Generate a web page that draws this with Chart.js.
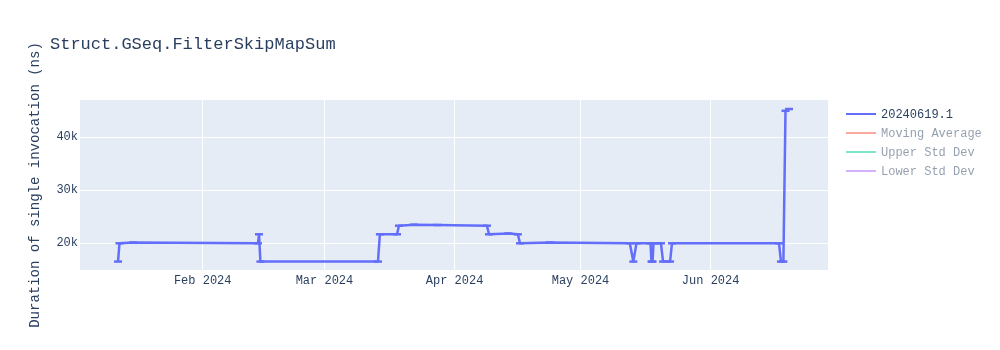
<!DOCTYPE html>
<html>
<head>
<meta charset="utf-8">
<title>Struct.GSeq.FilterSkipMapSum</title>
<script src="https://cdn.jsdelivr.net/npm/chart.js@4.4.1/dist/chart.umd.min.js"></script>
<style>
  html, body { margin: 0; padding: 0; background: #fff; }
  #wrap { width: 1000px; height: 350px; }
</style>
</head>
<body>
<div id="wrap"><canvas id="chart" width="1000" height="350"></canvas></div>
<script>
const FONT = '"Courier New", "Liberation Mono", monospace';
const INK = '#2a3f5f';

const chartTitle = 'Struct.GSeq.FilterSkipMapSum';
const yAxisTitle = 'Duration of single invocation (ns)';

// benchmark runs (UTC) and the measured duration of each
const runDates = [
    '2024-01-11T20:00Z', '2024-01-12T04:00Z', '2024-01-15T10:00Z',
    '2024-02-14T04:00Z', '2024-02-14T10:00Z', '2024-02-14T18:00Z',
    '2024-03-13T18:00Z', '2024-03-14T05:00Z', '2024-03-18T07:00Z',
    '2024-03-18T18:00Z', '2024-03-22T08:00Z', '2024-03-27T22:00Z',
    '2024-04-08T17:00Z', '2024-04-09T05:00Z', '2024-04-13T20:00Z',
    '2024-04-16T02:00Z', '2024-04-16T14:00Z', '2024-04-23T17:00Z',
    '2024-05-12T18:00Z', '2024-05-13T14:00Z', '2024-05-14T08:00Z',
    '2024-05-17T16:00Z', '2024-05-17T22:00Z', '2024-05-18T04:00Z',
    '2024-05-18T09:00Z', '2024-05-20T04:00Z', '2024-05-20T16:00Z',
    '2024-05-22T08:00Z', '2024-05-22T19:00Z', '2024-06-17T07:00Z',
    '2024-06-17T18:00Z', '2024-06-18T08:00Z', '2024-06-18T20:00Z',
    '2024-06-19T16:00Z',
];
const durations = [
    16550, 20000, 20150,
    20000, 21700, 16550,
    16550, 21700, 21700,
    23320, 23500, 23450,
    23320, 21700, 21850,
    21700, 20000, 20150,
    20000, 16550, 20000,
    20000, 16550, 16550,
    20000, 20000, 16550,
    16550, 20000, 20000,
    16550, 16550, 45000,
    45340,
];

const seriesNames = ['20240619.1', 'Moving Average', 'Upper Std Dev', 'Lower Std Dev'];
const seriesColors = ['#636efa', '#ef553b', '#00cc96', '#ab63fa'];

const monthStarts = ['2024-02-01', '2024-03-01', '2024-04-01', '2024-05-01', '2024-06-01'];
const monthLabels = ['Feb 2024', 'Mar 2024', 'Apr 2024', 'May 2024', 'Jun 2024'];
const yTicks = [20000, 30000, 40000];

const xRange = ['2024-01-02T18:30Z', '2024-06-28T23:00Z'];
const yRange = [14960, 47040];

const plotlyFrame = {
    id: 'plotlyFrame',
    beforeDraw(chart) {
        const { ctx, chartArea: a } = chart;
        ctx.save();
        ctx.fillStyle = '#e5ecf6';
        ctx.fillRect(a.left, a.top, a.width, a.height);
        ctx.restore();
    },
    afterDraw(chart) {
        const { ctx, chartArea: a } = chart;
        ctx.save();
        ctx.fillStyle = INK;
        ctx.font = '17px ' + FONT;
        ctx.textBaseline = 'alphabetic';
        ctx.fillText(chartTitle, 50, 49);

        // plotly-like legend, faded entries are legend-only traces
        ctx.font = '12px ' + FONT;
        ctx.textBaseline = 'middle';
        ctx.lineWidth = 2;
        const x0 = a.right + 18;
        chart.data.datasets.forEach((ds, i) => {
            const y = a.top + 14 + i * 19;
            ctx.globalAlpha = chart.isDatasetVisible(i) ? 1 : 0.5;
            ctx.strokeStyle = ds.borderColor;
            ctx.beginPath();
            ctx.moveTo(x0, y);
            ctx.lineTo(x0 + 30, y);
            ctx.stroke();
            ctx.fillStyle = INK;
            ctx.fillText(ds.label, x0 + 35, y + 1);
        });
        ctx.restore();
    },
};

const mainData = runDates.map((d, i) => ({ x: Date.parse(d), y: durations[i] }));

new Chart(document.getElementById('chart'), {
    type: 'line',
    data: {
        datasets: seriesNames.map((name, i) => ({
            label: name,
            data: i === 0 ? mainData : [],
            hidden: i !== 0,
            borderColor: seriesColors[i],
            backgroundColor: seriesColors[i],
            borderWidth: 2.5,
            borderJoinStyle: 'round',
            pointStyle: 'line',
            pointRadius: 4,
            pointBorderWidth: 2.5,
            pointBorderColor: seriesColors[i],
            tension: 0,
            fill: false,
        })),
    },
    options: {
        responsive: false,
        animation: false,
        layout: { padding: { top: 100, right: 172, bottom: 0, left: 0 } },
        plugins: {
            legend: { display: false },
            tooltip: { enabled: false },
        },
        scales: {
            x: {
                type: 'linear',
                min: Date.parse(xRange[0]),
                max: Date.parse(xRange[1]),
                border: { display: false },
                grid: { color: '#ffffff', lineWidth: 1, drawTicks: false },
                afterFit: (scale) => { scale.height = 80; },
                afterBuildTicks: (scale) => {
                    scale.ticks = monthStarts.map((d) => ({ value: Date.parse(d) }));
                },
                ticks: {
                    color: INK,
                    font: { family: FONT, size: 12 },
                    padding: 4,
                    maxRotation: 0,
                    autoSkip: false,
                    callback: (value) => {
                        const i = monthStarts.findIndex((d) => Date.parse(d) === value);
                        return i >= 0 ? monthLabels[i] : '';
                    },
                },
            },
            y: {
                type: 'linear',
                min: yRange[0],
                max: yRange[1],
                border: { display: false },
                grid: { color: '#ffffff', lineWidth: 1, drawTicks: false },
                afterFit: (scale) => { scale.width = 80; },
                afterBuildTicks: (scale) => {
                    scale.ticks = yTicks.map((value) => ({ value }));
                },
                ticks: {
                    color: INK,
                    font: { family: FONT, size: 12 },
                    padding: 2,
                    callback: (value) => value / 1000 + 'k',
                },
                title: {
                    display: true,
                    text: yAxisTitle,
                    color: INK,
                    font: { family: FONT, size: 14 },
                    padding: { top: 27, bottom: 0 },
                },
            },
        },
    },
    plugins: [plotlyFrame],
});
</script>
</body>
</html>
